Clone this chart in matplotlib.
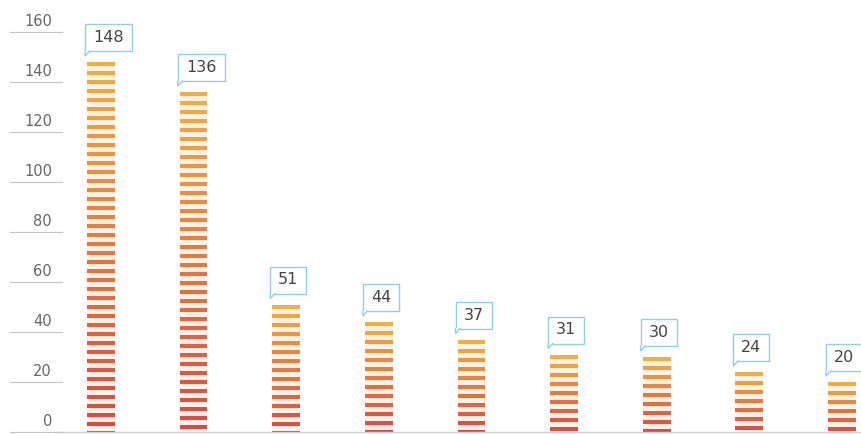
import matplotlib
matplotlib.use('Agg')
import matplotlib.pyplot as plt
import numpy as np
from matplotlib import transforms
from matplotlib.patches import Rectangle, Polygon
from matplotlib.colors import LinearSegmentedColormap

# ---- data ----
values = [148, 136, 51, 44, 37, 31, 30, 24, 20]
value_labels = [str(v) for v in values]
yticks = [0, 20, 40, 60, 80, 100, 120, 140, 160]
ytick_labels = [str(t) for t in yticks]

# ---- layout ----
W, H = 862, 434
fig = plt.figure(figsize=(W / 100, H / 100), dpi=100)
left_px, bottom_px = 54.7, 2.0
axh_px = 400.0
ax = fig.add_axes([left_px / W, bottom_px / H, (W - left_px) / W, axh_px / H])
ax.set_xlim(-0.5, 8.218)
ax.set_ylim(0, 160)
ax.axis('off')

cmap = LinearSegmentedColormap.from_list('stripe', ['#DC4646', '#E6763F', '#F2AE3E'])

bw = 0.30
period = 3.6
thick = 1.6

x = np.arange(len(values))

# pale backdrop
ax.bar(x, values, width=bw, color='#fdf1e6', zorder=1)

for i, v in enumerate(values):
    top = v
    while top > 0:
        bot = max(top - thick, 0)
        frac = top / v
        ax.bar(i, top - bot, bottom=bot, width=bw, color=cmap(frac), zorder=2, linewidth=0)
        top -= period

# baseline
ax.plot([-0.5, 8.218], [0, 0], color='#d0d0d0', lw=1.0, zorder=3, clip_on=False)

# y tick labels with short lines
bt = transforms.blended_transform_factory(fig.transFigure, ax.transData)
txt_t = transforms.offset_copy(bt, fig=fig, x=0, y=3, units='dots')
for t, lab in zip(yticks, ytick_labels):
    ax.plot([10 / W, 62 / W], [t, t], transform=bt, color='#c4c4c4', lw=0.8,
            clip_on=False, zorder=3)
    ax.text(52 / W, t, lab, transform=txt_t, ha='right', va='bottom',
            fontsize=10.5, color='#666666', family='DejaVu Sans')

# value labels in boxes
ident = transforms.IdentityTransform()
for i, (v, lab) in enumerate(zip(values, value_labels)):
    bx, by = ax.transData.transform((i - bw / 2, v))
    wbox = 14 + 11 * len(lab)
    hbox = 27
    x0, y0 = bx - 2, by + 11
    rect = Rectangle((x0, y0), wbox, hbox, transform=ident, facecolor='white',
                     edgecolor='#92cfe3', lw=1.0, zorder=5, clip_on=False)
    fig.add_artist(rect)
    tail = Polygon([(x0, y0 + 0.5), (x0, y0 - 5), (x0 + 5, y0 + 0.5)], closed=False,
                   transform=ident, facecolor='white', edgecolor='#92cfe3', lw=1.0,
                   zorder=5, clip_on=False)
    fig.add_artist(tail)
    fig.text(x0 + wbox / 2, y0 + hbox / 2, lab, transform=ident, ha='center',
             va='center', fontsize=11.5, color='#444444', family='DejaVu Sans', zorder=6)

fig.savefig('out.png', dpi=100, facecolor='white')
